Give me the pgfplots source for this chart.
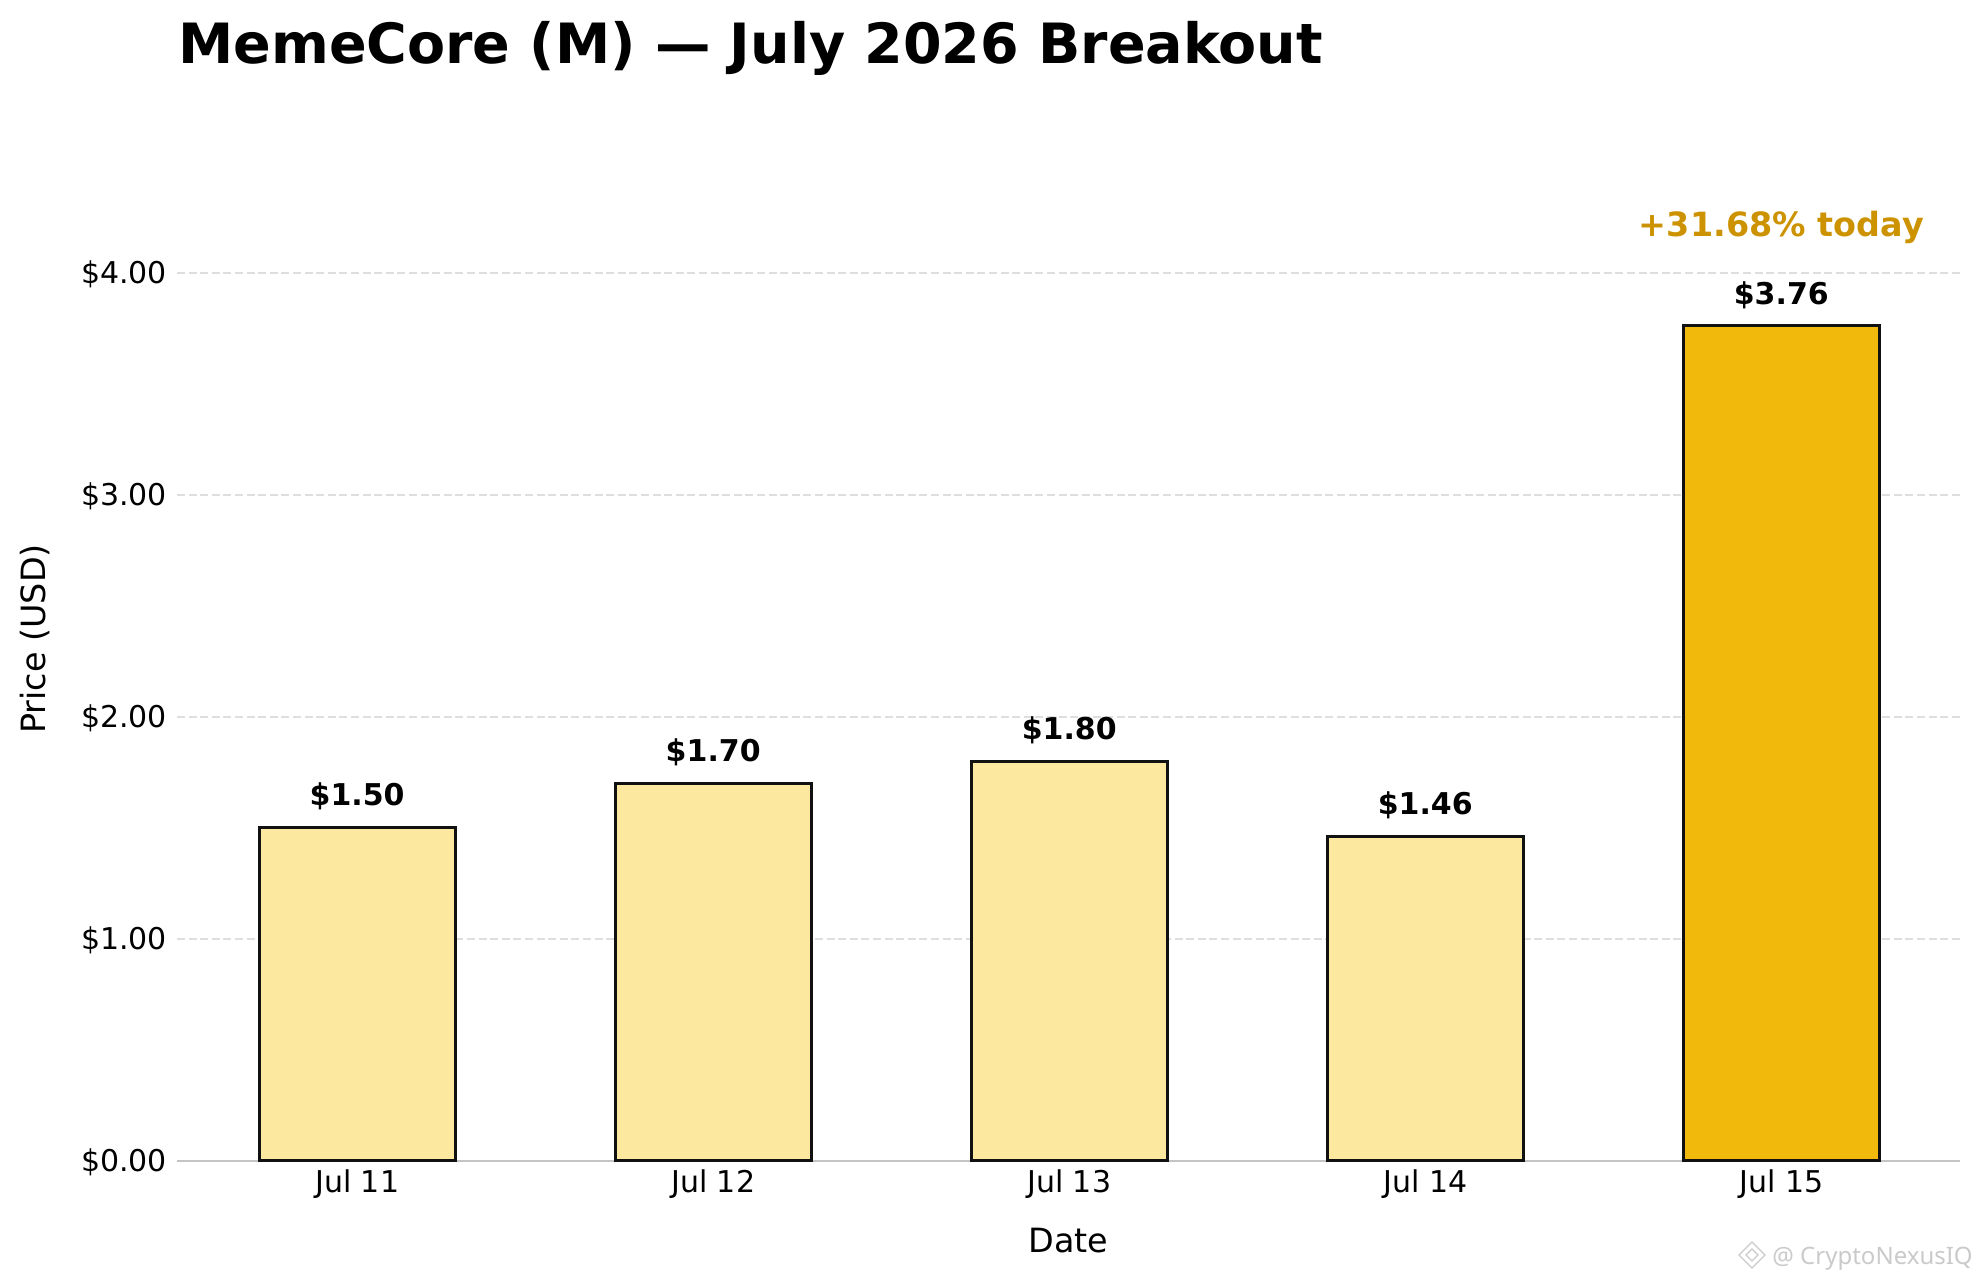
\documentclass[border=0pt]{standalone}
\usepackage{pgfplots}
\usepackage{fontspec}
\setmainfont{DejaVu Sans}
\newfontfamily\wmfont{Noto Sans}
\pgfplotsset{compat=1.18}
\definecolor{lightbar}{HTML}{FDE89F}
\definecolor{darkbar}{HTML}{F2B90D}
\definecolor{edge}{HTML}{111111}
\definecolor{gridc}{HTML}{DEDEDE}
\definecolor{spine}{HTML}{C4C4C4}
\definecolor{note}{HTML}{CC9200}
\definecolor{wm}{HTML}{CACACA}
\begin{document}
\begin{tikzpicture}
\path[use as bounding box] (0,0) rectangle (989.5pt,640pt);
\begin{axis}[
  at={(88.5pt,59.65pt)}, anchor=south west,
  scale only axis, width=891.5pt, height=521.7pt,
  xmin=-0.506, xmax=4.502, ymin=0, ymax=4.7,
  clip=false,
  axis x line=bottom, axis y line=left,
  axis line style={-},
  x axis line style={draw=spine, line width=0.8pt},
  y axis line style={draw=none},
  major tick length=0pt,
  xtick={0,1,2,3,4},
  xticklabels={Jul 11,Jul 12,Jul 13,Jul 14,Jul 15},
  ytick={0,1,2,3,4},
  yticklabels={\$0.00,\$1.00,\$2.00,\$3.00,\$4.00},
  ymajorgrids=true,
  grid style={draw=gridc, line width=1pt, dash pattern=on 4pt off 1.8pt},
  tick label style={font=\fontsize{15}{18}\selectfont, text=black},
  xticklabel style={yshift=-1pt},
  yticklabel style={xshift=-1.5pt, yshift=-0.8pt},
  xlabel={Date}, ylabel={Price (USD)},
  label style={font=\fontsize{16.7}{20}\selectfont},
  xlabel style={at={(axis description cs:0.5,0)}, anchor=base, yshift=-45.8pt},
  ylabel style={at={(axis description cs:0,0.5)}, anchor=center, rotate=0, xshift=0pt, yshift=71pt},
  title={MemeCore (M) — July 2026 Breakout},
  title style={at={(axis description cs:0,1)}, anchor=base west, font=\fontsize{27.75}{32}\bfseries, yshift=20.8pt, xshift=0.5pt, inner xsep=0pt},
  ybar, bar width=98pt, bar shift=0pt,
  point meta=explicit symbolic,
  nodes near coords,
  nodes near coords style={font=\fontsize{15}{18}\bfseries\selectfont, text=black, anchor=south, yshift=4.7pt},
]
\addplot[fill=lightbar, draw=edge, line width=1.5pt] coordinates {(0,1.50)[\$1.50] (1,1.70)[\$1.70] (2,1.80)[\$1.80] (3,1.46)[\$1.46]};
\addplot[fill=darkbar, draw=edge, line width=1.5pt] coordinates {(4,3.76)[\$3.76]};
\node[anchor=base, text=note, font=\fontsize{16.7}{20}\bfseries\selectfont] at (axis cs:4,4.162) {+31.68\% today};
\end{axis}
% watermark
\begin{scope}[shift={(876pt,12.5pt)}, draw=wm, line width=0.6pt]
  \draw (0,6.5pt) -- (6.5pt,0) -- (0,-6.5pt) -- (-6.5pt,0) -- cycle;
  \draw (0,3pt) -- (3pt,0) -- (0,-3pt) -- (-3pt,0) -- cycle;
\end{scope}
\node[anchor=base west, inner sep=0pt, text=wm, font=\wmfont\fontsize{12}{15}\selectfont] at (886pt,8pt) {@ CryptoNexusIQ};
\end{tikzpicture}
\end{document}
